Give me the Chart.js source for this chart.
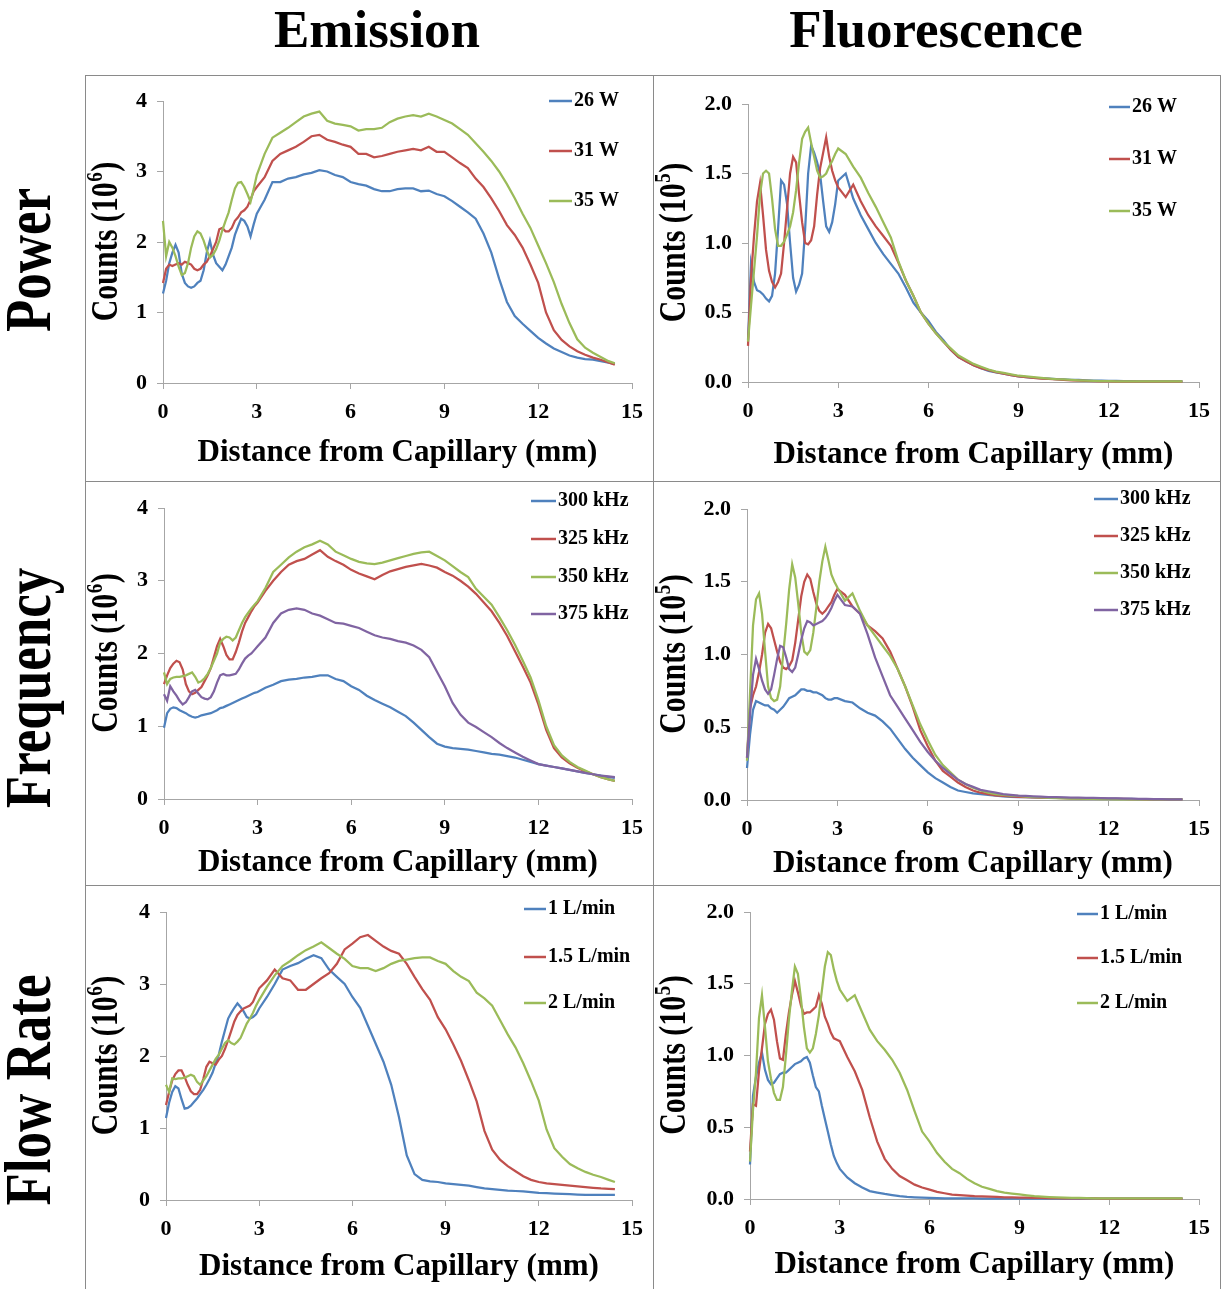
<!DOCTYPE html>
<html>
<head>
<meta charset="utf-8">
<script src="https://cdn.jsdelivr.net/npm/chart.js@4.4.1/dist/chart.umd.min.js"></script>
<style>
  body { margin: 0; background: #fff; width: 1224px; height: 1289px; position: relative; overflow: hidden;
         font-family: "Liberation Serif", "Times New Roman", serif; }
  .col-title { position: absolute; font-weight: bold; font-size: 53px; line-height: 53px; white-space: nowrap;
               transform: translate(-50%, -50%); }
  .row-title { position: absolute; font-weight: bold; font-size: 53px; line-height: 53px; white-space: nowrap;
               transform: translate(-50%, -50%) rotate(-90deg) scaleY(1.25); }
  .rule { position: absolute; background: #8a8a8a; }
  canvas { position: absolute; }
</style>
</head>
<body>
<div class="col-title" style="left:377px; top:29px;">Emission</div>
<div class="col-title" style="left:936px; top:29px;">Fluorescence</div>
<div class="row-title" style="left:28px; top:260px;">Power</div>
<div class="row-title" style="left:28px; top:688px;">Frequency</div>
<div class="row-title" style="left:28px; top:1090px;">Flow Rate</div>

<div class="rule" style="left:85px; top:75px; width:1136px; height:1px;"></div>
<div class="rule" style="left:85px; top:481px; width:1136px; height:1px;"></div>
<div class="rule" style="left:85px; top:885px; width:1136px; height:1px;"></div>
<div class="rule" style="left:85px; top:75px; width:1px; height:1214px;"></div>
<div class="rule" style="left:653px; top:75px; width:1px; height:1214px;"></div>
<div class="rule" style="left:1220px; top:75px; width:1px; height:1214px;"></div>

<canvas id="c1" width="568" height="406" style="left:85px; top:75px;"></canvas>
<canvas id="c2" width="567" height="406" style="left:653px; top:75px;"></canvas>
<canvas id="c3" width="568" height="404" style="left:85px; top:481px;"></canvas>
<canvas id="c4" width="567" height="404" style="left:653px; top:481px;"></canvas>
<canvas id="c5" width="568" height="404" style="left:85px; top:885px;"></canvas>
<canvas id="c6" width="567" height="404" style="left:653px; top:885px;"></canvas>

<script>
// distance from capillary (mm), shared by every series
const DIST = [
  0, 0.1, 0.2, 0.3, 0.4, 0.5, 0.6, 0.7, 0.8, 0.9, 1.0,
  1.1, 1.2, 1.3, 1.4, 1.5, 1.6, 1.7, 1.8, 1.9, 2.0,
  2.1, 2.2, 2.3, 2.4, 2.5, 2.6, 2.7, 2.8, 2.9, 3.0,
  3.25, 3.5, 3.75, 4.0, 4.25, 4.5, 4.75, 5.0, 5.25, 5.5, 5.75, 6.0,
  6.25, 6.5, 6.75, 7.0, 7.25, 7.5, 7.75, 8.0, 8.25, 8.5, 8.75, 9.0,
  9.25, 9.5, 9.75, 10.0, 10.25, 10.5, 10.75, 11.0, 11.25, 11.5, 11.75, 12.0,
  12.25, 12.5, 12.75, 13.0, 13.25, 13.5, 13.75, 14.0, 14.25, 14.45
];

const X_TICKS = ['0', '3', '6', '9', '12', '15'];
const EMISSION_TICKS = ['0', '1', '2', '3', '4'];
const FLUOR_TICKS = ['0.0', '0.5', '1.0', '1.5', '2.0'];

const powerLabels = ['26 W', '31 W', '35 W'];
const freqLabels = ['300 kHz', '325 kHz', '350 kHz', '375 kHz'];
const flowLabels = ['1 L/min', '1.5 L/min', '2 L/min'];

// Power - emission (10^6 counts)
const powerEm26 = [
  1.27, 1.45, 1.70, 1.85, 1.96, 1.85, 1.55, 1.42, 1.37, 1.35, 1.37,
  1.42, 1.45, 1.60, 1.85, 2.02, 1.82, 1.70, 1.65, 1.60, 1.68,
  1.80, 1.92, 2.10, 2.22, 2.33, 2.30, 2.22, 2.08, 2.25, 2.40,
  2.60, 2.85, 2.85, 2.90, 2.92, 2.96, 2.98, 3.02, 3.00, 2.95, 2.92, 2.85,
  2.82, 2.80, 2.75, 2.72, 2.72, 2.75, 2.76, 2.76, 2.72, 2.73, 2.68, 2.65,
  2.58, 2.50, 2.42, 2.33, 2.12, 1.85, 1.48, 1.15, 0.95, 0.84, 0.74, 0.64,
  0.56, 0.49, 0.44, 0.39, 0.36, 0.34, 0.33, 0.31, 0.29, 0.27
];
const powerEm31 = [
  1.42, 1.62, 1.68, 1.66, 1.68, 1.70, 1.68, 1.72, 1.70, 1.68, 1.62,
  1.60, 1.62, 1.68, 1.72, 1.80, 1.90, 2.00, 2.18, 2.20, 2.15,
  2.15, 2.20, 2.30, 2.35, 2.42, 2.45, 2.50, 2.60, 2.72, 2.78,
  2.92, 3.15, 3.25, 3.30, 3.35, 3.42, 3.50, 3.52, 3.45, 3.42, 3.38, 3.35,
  3.25, 3.25, 3.20, 3.22, 3.25, 3.28, 3.30, 3.32, 3.30, 3.35, 3.28, 3.28,
  3.20, 3.12, 3.05, 2.90, 2.78, 2.62, 2.44, 2.24, 2.10, 1.92, 1.68, 1.42,
  1.00, 0.75, 0.61, 0.52, 0.45, 0.40, 0.36, 0.33, 0.29, 0.26
];
const powerEm35 = [
  2.30, 1.80, 2.00, 1.92, 1.80, 1.65, 1.53, 1.56, 1.70, 1.92, 2.08,
  2.15, 2.12, 2.02, 1.88, 1.78, 1.82, 1.90, 2.02, 2.17, 2.30,
  2.42, 2.60, 2.76, 2.84, 2.85, 2.78, 2.68, 2.57, 2.75, 2.95,
  3.25, 3.48, 3.55, 3.62, 3.70, 3.78, 3.82, 3.85, 3.72, 3.68, 3.66, 3.64,
  3.58, 3.60, 3.60, 3.62, 3.70, 3.75, 3.78, 3.80, 3.78, 3.82, 3.78, 3.73,
  3.68, 3.60, 3.52, 3.40, 3.28, 3.15, 3.00, 2.82, 2.62, 2.40, 2.20, 1.95,
  1.70, 1.43, 1.12, 0.85, 0.62, 0.50, 0.43, 0.37, 0.31, 0.28
];

// Power - fluorescence (10^5 counts)
const powerFl26 = [
  0.30, 0.85, 0.72, 0.66, 0.65, 0.63, 0.60, 0.58, 0.62, 0.78, 1.10,
  1.45, 1.42, 1.28, 1.00, 0.75, 0.65, 0.70, 0.78, 1.10, 1.50,
  1.70, 1.65, 1.58, 1.49, 1.30, 1.12, 1.08, 1.15, 1.28, 1.45,
  1.50, 1.32, 1.20, 1.10, 1.00, 0.92, 0.85, 0.78, 0.68, 0.57, 0.50, 0.44,
  0.36, 0.30, 0.23, 0.18, 0.15, 0.12, 0.10, 0.08, 0.07, 0.06, 0.05, 0.04,
  0.035, 0.03, 0.028, 0.025, 0.02, 0.018, 0.015, 0.015, 0.012, 0.01, 0.01, 0.008,
  0.008, 0.006, 0.006, 0.005, 0.005, 0.004, 0.004, 0.004, 0.004, 0.004
];
const powerFl31 = [
  0.26, 0.75, 1.05, 1.30, 1.43, 1.20, 0.95, 0.80, 0.72, 0.68, 0.72,
  0.78, 1.00, 1.25, 1.50, 1.62, 1.58, 1.35, 1.15, 1.00, 0.99,
  1.02, 1.12, 1.35, 1.54, 1.65, 1.76, 1.62, 1.52, 1.45, 1.40,
  1.33, 1.42, 1.30, 1.20, 1.12, 1.05, 0.98, 0.86, 0.73, 0.62, 0.50, 0.42,
  0.35, 0.29, 0.23, 0.18, 0.15, 0.12, 0.10, 0.085, 0.07, 0.06, 0.05, 0.04,
  0.035, 0.03, 0.025, 0.022, 0.018, 0.015, 0.012, 0.01, 0.008, 0.006, 0.005, 0.004,
  0.003, 0.003, 0.002, 0.002, 0.002, 0.002, 0.002, 0.002, 0.002, 0.002
];
const powerFl35 = [
  0.29, 0.55, 0.80, 1.05, 1.35, 1.50, 1.52, 1.50, 1.32, 1.10, 0.98,
  0.98, 1.01, 1.06, 1.12, 1.22, 1.38, 1.58, 1.75, 1.80, 1.83,
  1.72, 1.62, 1.52, 1.47, 1.48, 1.50, 1.55, 1.59, 1.64, 1.68,
  1.64, 1.55, 1.47, 1.36, 1.26, 1.15, 1.04, 0.87, 0.73, 0.62, 0.50, 0.42,
  0.35, 0.29, 0.24, 0.19, 0.16, 0.13, 0.11, 0.09, 0.075, 0.065, 0.055, 0.045,
  0.04, 0.035, 0.03, 0.025, 0.02, 0.018, 0.015, 0.012, 0.01, 0.008, 0.007, 0.006,
  0.005, 0.005, 0.005, 0.004, 0.004, 0.004, 0.004, 0.004, 0.004, 0.004
];

// Frequency - emission (10^6 counts)
const freqEm300 = [
  0.98, 1.18, 1.24, 1.26, 1.25, 1.22, 1.20, 1.18, 1.15, 1.13, 1.12,
  1.13, 1.15, 1.16, 1.17, 1.18, 1.20, 1.22, 1.25, 1.26, 1.28,
  1.30, 1.32, 1.34, 1.36, 1.38, 1.40, 1.42, 1.44, 1.46, 1.47,
  1.53, 1.57, 1.62, 1.64, 1.65, 1.67, 1.68, 1.70, 1.70, 1.65, 1.62, 1.55,
  1.50, 1.42, 1.36, 1.31, 1.26, 1.20, 1.14, 1.05, 0.95, 0.85, 0.76, 0.72,
  0.70, 0.69, 0.68, 0.66, 0.64, 0.62, 0.61, 0.59, 0.57, 0.54, 0.51, 0.48,
  0.46, 0.44, 0.42, 0.40, 0.38, 0.36, 0.34, 0.32, 0.30, 0.29
];
const freqEm325 = [
  1.58, 1.70, 1.80, 1.86, 1.90, 1.88, 1.78, 1.58, 1.48, 1.44, 1.46,
  1.50, 1.54, 1.62, 1.70, 1.80, 1.95, 2.10, 2.20, 2.10, 1.98,
  1.92, 1.92, 2.02, 2.15, 2.30, 2.42, 2.50, 2.58, 2.65, 2.70,
  2.86, 3.00, 3.12, 3.22, 3.27, 3.30, 3.36, 3.42, 3.33, 3.27, 3.22, 3.15,
  3.10, 3.06, 3.02, 3.08, 3.13, 3.16, 3.19, 3.21, 3.23, 3.21, 3.18, 3.12,
  3.07, 3.00, 2.92, 2.82, 2.70, 2.58, 2.42, 2.24, 2.03, 1.82, 1.60, 1.30,
  0.95, 0.70, 0.57, 0.49, 0.43, 0.38, 0.34, 0.30, 0.27, 0.25
];
const freqEm350 = [
  1.74, 1.58, 1.65, 1.67, 1.68, 1.68, 1.69, 1.70, 1.72, 1.74, 1.68,
  1.60, 1.62, 1.66, 1.72, 1.80, 1.90, 2.00, 2.15, 2.20, 2.23,
  2.22, 2.18, 2.22, 2.32, 2.42, 2.50, 2.56, 2.62, 2.67, 2.72,
  2.90, 3.12, 3.22, 3.32, 3.40, 3.46, 3.50, 3.55, 3.50, 3.40, 3.35, 3.30,
  3.26, 3.24, 3.23, 3.25, 3.28, 3.31, 3.34, 3.37, 3.39, 3.40, 3.34, 3.28,
  3.20, 3.12, 3.05, 2.89, 2.78, 2.67, 2.50, 2.32, 2.12, 1.90, 1.67, 1.36,
  1.00, 0.74, 0.60, 0.51, 0.44, 0.39, 0.34, 0.30, 0.27, 0.25
];
const freqEm375 = [
  1.44, 1.35, 1.55, 1.48, 1.42, 1.35, 1.30, 1.33, 1.40, 1.48, 1.50,
  1.45, 1.40, 1.38, 1.37, 1.40, 1.48, 1.60, 1.70, 1.72, 1.70,
  1.70, 1.71, 1.72, 1.78, 1.86, 1.93, 1.97, 2.00, 2.05, 2.10,
  2.22, 2.42, 2.55, 2.60, 2.62, 2.60, 2.55, 2.52, 2.47, 2.42, 2.41, 2.38,
  2.35, 2.30, 2.25, 2.22, 2.20, 2.17, 2.15, 2.11, 2.05, 1.95, 1.75, 1.55,
  1.32, 1.16, 1.05, 0.99, 0.92, 0.85, 0.77, 0.70, 0.64, 0.58, 0.53, 0.48,
  0.46, 0.44, 0.42, 0.40, 0.38, 0.36, 0.34, 0.32, 0.31, 0.30
];

// Frequency - fluorescence (10^5 counts)
const freqFl300 = [
  0.22, 0.45, 0.62, 0.68, 0.67, 0.66, 0.65, 0.65, 0.63, 0.62, 0.60,
  0.62, 0.64, 0.67, 0.70, 0.71, 0.72, 0.74, 0.76, 0.76, 0.75,
  0.75, 0.74, 0.74, 0.73, 0.72, 0.70, 0.69, 0.69, 0.70, 0.70,
  0.68, 0.67, 0.63, 0.60, 0.58, 0.54, 0.49, 0.42, 0.35, 0.29, 0.24, 0.19,
  0.15, 0.12, 0.09, 0.065, 0.055, 0.045, 0.04, 0.035, 0.03, 0.025, 0.022, 0.02,
  0.02, 0.018, 0.017, 0.016, 0.015, 0.014, 0.013, 0.012, 0.012, 0.011, 0.01, 0.01,
  0.009, 0.008, 0.007, 0.006, 0.006, 0.005, 0.005, 0.005, 0.005, 0.005
];
const freqFl325 = [
  0.29, 0.63, 0.72, 0.78, 0.88, 1.00, 1.15, 1.21, 1.18, 1.10, 1.02,
  0.95, 0.91, 0.90, 0.92, 0.96, 1.08, 1.24, 1.40, 1.50, 1.55,
  1.52, 1.43, 1.35, 1.30, 1.28, 1.30, 1.33, 1.36, 1.41, 1.45,
  1.41, 1.33, 1.28, 1.20, 1.16, 1.11, 1.02, 0.90, 0.78, 0.64, 0.48, 0.37,
  0.27, 0.20, 0.16, 0.12, 0.09, 0.065, 0.05, 0.04, 0.032, 0.028, 0.025, 0.022,
  0.02, 0.018, 0.016, 0.015, 0.014, 0.013, 0.012, 0.011, 0.01, 0.01, 0.009, 0.008,
  0.008, 0.007, 0.006, 0.006, 0.005, 0.005, 0.005, 0.005, 0.005, 0.005
];
const freqFl350 = [
  0.27, 0.73, 1.20, 1.38, 1.42, 1.28, 1.02, 0.78, 0.70, 0.68, 0.69,
  0.78, 1.00, 1.21, 1.45, 1.62, 1.53, 1.35, 1.15, 1.02, 1.00,
  1.03, 1.15, 1.32, 1.50, 1.64, 1.74, 1.65, 1.55, 1.50, 1.46,
  1.37, 1.42, 1.30, 1.20, 1.13, 1.06, 0.99, 0.90, 0.78, 0.65, 0.52, 0.41,
  0.31, 0.24, 0.19, 0.14, 0.11, 0.085, 0.065, 0.05, 0.04, 0.035, 0.03, 0.028,
  0.024, 0.02, 0.018, 0.015, 0.013, 0.012, 0.01, 0.009, 0.008, 0.007, 0.006, 0.006,
  0.005, 0.005, 0.005, 0.005, 0.005, 0.005, 0.005, 0.005, 0.005, 0.005
];
const freqFl375 = [
  0.29, 0.59, 0.86, 0.97, 0.90, 0.82, 0.76, 0.73, 0.76, 0.86, 0.97,
  1.06, 1.05, 0.98, 0.90, 0.88, 0.91, 1.00, 1.10, 1.18, 1.23,
  1.22, 1.20, 1.21, 1.22, 1.23, 1.25, 1.28, 1.32, 1.37, 1.41,
  1.34, 1.33, 1.28, 1.14, 0.98, 0.85, 0.72, 0.64, 0.56, 0.48, 0.40, 0.33,
  0.27, 0.22, 0.18, 0.14, 0.11, 0.09, 0.07, 0.06, 0.05, 0.04, 0.035, 0.03,
  0.028, 0.025, 0.023, 0.02, 0.019, 0.018, 0.017, 0.016, 0.015, 0.014, 0.013, 0.012,
  0.011, 0.01, 0.009, 0.008, 0.007, 0.006, 0.006, 0.005, 0.005, 0.005
];

// Flow rate - emission (10^6 counts)
const flowEm1 = [
  1.14, 1.35, 1.50, 1.58, 1.55, 1.40, 1.27, 1.28, 1.31, 1.36, 1.41,
  1.47, 1.53, 1.60, 1.68, 1.77, 1.90, 2.02, 2.20, 2.36, 2.52,
  2.60, 2.67, 2.73, 2.68, 2.62, 2.54, 2.52, 2.54, 2.58, 2.66,
  2.82, 3.00, 3.20, 3.25, 3.29, 3.35, 3.40, 3.36, 3.20, 3.10, 3.00, 2.82,
  2.67, 2.42, 2.17, 1.92, 1.60, 1.15, 0.62, 0.36, 0.28, 0.26, 0.25, 0.23,
  0.22, 0.21, 0.20, 0.18, 0.16, 0.15, 0.14, 0.13, 0.125, 0.12, 0.11, 0.10,
  0.095, 0.09, 0.085, 0.08, 0.075, 0.07, 0.07, 0.07, 0.07, 0.07
];
const flowEm15 = [
  1.32, 1.50, 1.66, 1.75, 1.80, 1.80, 1.71, 1.60, 1.51, 1.47, 1.47,
  1.53, 1.68, 1.85, 1.92, 1.90, 1.88, 1.95, 2.00, 2.10, 2.22,
  2.35, 2.48, 2.57, 2.62, 2.66, 2.68, 2.70, 2.75, 2.85, 2.94,
  3.05, 3.20, 3.08, 3.05, 2.92, 2.92, 3.00, 3.08, 3.15, 3.28, 3.48, 3.56,
  3.65, 3.68, 3.60, 3.52, 3.46, 3.42, 3.28, 3.10, 2.93, 2.78, 2.54, 2.37,
  2.16, 1.93, 1.66, 1.37, 0.96, 0.70, 0.56, 0.47, 0.40, 0.33, 0.28, 0.25,
  0.23, 0.22, 0.21, 0.20, 0.19, 0.18, 0.17, 0.16, 0.155, 0.15
];
const flowEm2 = [
  1.60, 1.50, 1.69, 1.68, 1.69, 1.69, 1.70, 1.72, 1.74, 1.72, 1.64,
  1.60, 1.66, 1.72, 1.80, 1.88, 1.96, 2.02, 2.10, 2.18, 2.22,
  2.18, 2.16, 2.20, 2.25, 2.35, 2.45, 2.52, 2.60, 2.70, 2.78,
  2.96, 3.12, 3.25, 3.32, 3.40, 3.47, 3.52, 3.58, 3.50, 3.42, 3.35, 3.25,
  3.22, 3.22, 3.18, 3.22, 3.28, 3.32, 3.34, 3.36, 3.37, 3.37, 3.32, 3.28,
  3.18, 3.10, 3.04, 2.88, 2.80, 2.70, 2.50, 2.30, 2.12, 1.90, 1.65, 1.38,
  0.98, 0.72, 0.60, 0.50, 0.44, 0.39, 0.35, 0.32, 0.28, 0.25
];

// Flow rate - fluorescence (10^5 counts)
const flowFl1 = [
  0.24, 0.72, 0.85, 0.95, 1.02, 0.90, 0.83, 0.80, 0.81, 0.84, 0.87,
  0.88, 0.88, 0.90, 0.92, 0.94, 0.95, 0.96, 0.98, 0.99, 0.95,
  0.86, 0.78, 0.75, 0.65, 0.56, 0.47, 0.38, 0.30, 0.25, 0.21,
  0.15, 0.11, 0.08, 0.055, 0.045, 0.035, 0.027, 0.02, 0.015, 0.012, 0.009, 0.007,
  0.006, 0.005, 0.005, 0.004, 0.004, 0.004, 0.003, 0.003, 0.003, 0.003, 0.003, 0.003,
  0.003, 0.003, 0.003, 0.003, 0.003, 0.003, 0.003, 0.003, 0.003, 0.003, 0.003, 0.003,
  0.003, 0.003, 0.003, 0.003, 0.003, 0.003, 0.003, 0.003, 0.003, 0.003
];
const flowFl15 = [
  0.33, 0.66, 0.65, 0.89, 1.05, 1.22, 1.29, 1.32, 1.25, 1.10, 0.98,
  0.97, 1.15, 1.30, 1.42, 1.52, 1.44, 1.35, 1.29, 1.30, 1.30,
  1.32, 1.34, 1.42, 1.36, 1.27, 1.22, 1.16, 1.12, 1.11, 1.10,
  0.99, 0.89, 0.76, 0.57, 0.40, 0.28, 0.21, 0.16, 0.13, 0.10, 0.08, 0.065,
  0.05, 0.04, 0.03, 0.027, 0.024, 0.02, 0.018, 0.016, 0.014, 0.012, 0.011, 0.01,
  0.009, 0.008, 0.007, 0.006, 0.006, 0.005, 0.005, 0.004, 0.004, 0.004, 0.003, 0.003,
  0.003, 0.003, 0.003, 0.003, 0.003, 0.003, 0.003, 0.003, 0.003, 0.003
];
const flowFl2 = [
  0.26, 0.62, 0.88, 1.26, 1.42, 1.20, 0.96, 0.84, 0.74, 0.69, 0.69,
  0.78, 1.00, 1.25, 1.45, 1.62, 1.57, 1.40, 1.20, 1.05, 1.02,
  1.05, 1.15, 1.28, 1.45, 1.62, 1.72, 1.70, 1.60, 1.52, 1.46,
  1.38, 1.42, 1.30, 1.18, 1.10, 1.04, 0.97, 0.88, 0.76, 0.61, 0.47, 0.40,
  0.32, 0.26, 0.21, 0.18, 0.14, 0.11, 0.085, 0.07, 0.055, 0.045, 0.038, 0.032,
  0.026, 0.02, 0.016, 0.013, 0.011, 0.009, 0.008, 0.007, 0.006, 0.005, 0.004, 0.004,
  0.004, 0.004, 0.004, 0.004, 0.004, 0.004, 0.004, 0.004, 0.004, 0.004
];

const SERIF = '"Liberation Serif", "Times New Roman", serif';
const LINE_COLORS = ['#4F81BD', '#C0504D', '#9BBB59', '#8064A2'];
const AXIS_COLOR = '#a6a6a6';

// panel layout: plot area in canvas pixels, legend rows, axis title positions
const panels = [
  { id: 'c1', labels: powerLabels, series: [powerEm26, powerEm31, powerEm35], ymax: 4, ystep: 1, yticks: EMISSION_TICKS, sup: '6',
    area: { left: 78, top: 26, right: 549, bottom: 308 }, xTitleY: 378, key: { x0: 464, x1: 487, rows: [26, 76, 126] } },
  { id: 'c2', labels: powerLabels, series: [powerFl26, powerFl31, powerFl35], ymax: 2, ystep: 0.5, yticks: FLUOR_TICKS, sup: '5',
    area: { left: 95, top: 29, right: 550, bottom: 307 }, xTitleY: 380, key: { x0: 456, x1: 477, rows: [32, 84, 136] } },
  { id: 'c3', labels: freqLabels, series: [freqEm300, freqEm325, freqEm350, freqEm375], ymax: 4, ystep: 1, yticks: EMISSION_TICKS, sup: '6',
    area: { left: 79, top: 27, right: 549, bottom: 318 }, xTitleY: 382, key: { x0: 446, x1: 471, rows: [20, 58, 96, 133] } },
  { id: 'c4', labels: freqLabels, series: [freqFl300, freqFl325, freqFl350, freqFl375], ymax: 2, ystep: 0.5, yticks: FLUOR_TICKS, sup: '5',
    area: { left: 94, top: 28, right: 549, bottom: 319 }, xTitleY: 383, key: { x0: 441, x1: 465, rows: [18, 55, 92, 129] } },
  { id: 'c5', labels: flowLabels, series: [flowEm1, flowEm15, flowEm2], ymax: 4, ystep: 1, yticks: EMISSION_TICKS, sup: '6',
    area: { left: 81, top: 27, right: 549, bottom: 315 }, xTitleY: 382, key: { x0: 439, x1: 461, rows: [24, 72, 118] } },
  { id: 'c6', labels: flowLabels, series: [flowFl1, flowFl15, flowFl2], ymax: 2, ystep: 0.5, yticks: FLUOR_TICKS, sup: '5',
    area: { left: 97, top: 27, right: 549, bottom: 314 }, xTitleY: 380, key: { x0: 424, x1: 445, rows: [29, 73, 118] } }
];

// legend drawn inside the plot: short line then label
const seriesKey = {
  id: 'seriesKey',
  afterDraw(chart, args, opts) {
    const ctx = chart.ctx;
    ctx.save();
    ctx.font = `bold 20px ${SERIF}`;
    ctx.textBaseline = 'middle';
    chart.data.datasets.forEach((ds, i) => {
      const y = opts.rows[i];
      ctx.strokeStyle = ds.borderColor;
      ctx.lineWidth = 2.5;
      ctx.beginPath();
      ctx.moveTo(opts.x0, y);
      ctx.lineTo(opts.x1, y);
      ctx.stroke();
      ctx.fillStyle = '#000';
      ctx.fillText(ds.label, opts.x1 + 2, y);
    });
    ctx.restore();
  }
};

// vertical "Counts (10^n)" caption with a real superscript
const yCaption = {
  id: 'yCaption',
  afterDraw(chart, args, opts) {
    const { ctx, chartArea } = chart;
    const big = `bold 30px ${SERIF}`;
    const small = `bold 19px ${SERIF}`;
    ctx.save();
    ctx.translate(opts.x, (chartArea.top + chartArea.bottom) / 2);
    ctx.rotate(-Math.PI / 2);
    ctx.scale(1, 1.25);
    ctx.fillStyle = '#000';
    ctx.textBaseline = 'middle';
    ctx.font = big;
    const w1 = ctx.measureText('Counts (10').width;
    const w3 = ctx.measureText(')').width;
    ctx.font = small;
    const w2 = ctx.measureText(opts.sup).width;
    let x = -(w1 + w2 + w3) / 2;
    ctx.font = big;
    ctx.fillText('Counts (10', x, 0);
    x += w1;
    ctx.font = small;
    ctx.fillText(opts.sup, x + 0.5, -9);
    x += w2 + 1;
    ctx.font = big;
    ctx.fillText(')', x, 0);
    ctx.restore();
  }
};

panels.forEach(p => {
  const canvas = document.getElementById(p.id);
  const W = canvas.width, H = canvas.height;
  const tickFont = { family: SERIF, size: 22, weight: 'bold', lineHeight: 1.2 };

  new Chart(canvas, {
    type: 'line',
    data: {
      datasets: p.series.map((vals, i) => ({
        label: p.labels[i],
        data: vals.map((v, k) => ({ x: DIST[k], y: v })),
        borderColor: LINE_COLORS[i],
        borderWidth: 2.25,
        pointRadius: 0,
        fill: false,
        tension: 0,
        clip: false,
        order: p.series.length - i
      }))
    },
    options: {
      responsive: false,
      animation: false,
      layout: { padding: { left: 0, top: p.area.top, right: W - p.area.right, bottom: 0 } },
      plugins: {
        legend: { display: false },
        tooltip: { enabled: false },
        seriesKey: p.key,
        yCaption: { x: 22, sup: p.sup }
      },
      scales: {
        x: {
          type: 'linear',
          min: 0,
          max: 15,
          ticks: { stepSize: 3, color: '#000', font: tickFont, padding: 10, maxRotation: 0,
                   callback: (v, i) => X_TICKS[i] },
          grid: { drawOnChartArea: false, drawTicks: true, tickLength: 6, color: AXIS_COLOR },
          border: { display: true, color: AXIS_COLOR, width: 1 },
          title: { display: true, text: 'Distance from Capillary (mm)', color: '#000',
                   font: { family: SERIF, size: 31, weight: 'bold', lineHeight: 1.2 },
                   padding: { top: 0, bottom: H - p.xTitleY - 19 } },
          afterFit: s => { s.height = H - p.area.bottom; }
        },
        y: {
          min: 0,
          max: p.ymax,
          ticks: { stepSize: p.ystep, color: '#000', font: tickFont, padding: 10,
                   callback: (v, i) => p.yticks[i] },
          grid: { drawOnChartArea: false, drawTicks: true, tickLength: 6, color: AXIS_COLOR },
          border: { display: true, color: AXIS_COLOR, width: 1 },
          afterFit: s => { s.width = p.area.left; }
        }
      }
    },
    plugins: [seriesKey, yCaption]
  });
});
</script>
</body>
</html>
